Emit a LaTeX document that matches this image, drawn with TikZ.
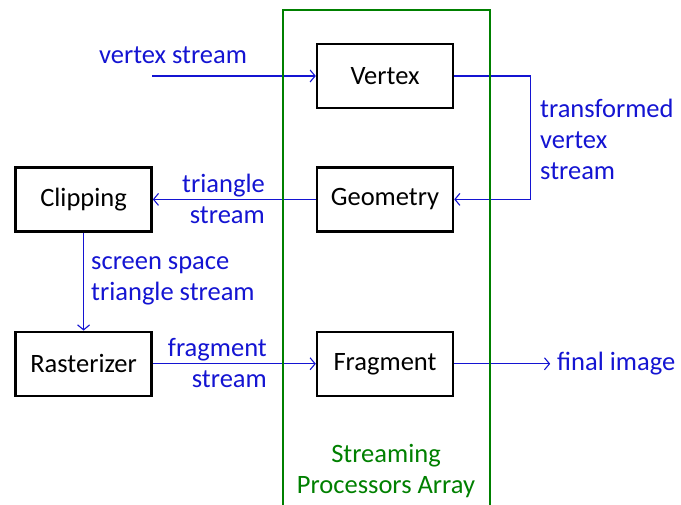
\documentclass[tikz,border=0pt]{standalone}
\usepackage{fontspec}
\setmainfont{Carlito}
\usepackage{xcolor}
\usepackage{tikz}
\usetikzlibrary{positioning, arrows.meta}

\definecolor{flowblue}{RGB}{20,20,210}
\definecolor{arraygreen}{RGB}{0,128,0}

\begin{document}
\begin{tikzpicture}[x=1pt, y=1pt, node distance=57pt and 163pt]

			% Styles
			\tikzset{
				stage/.style={
					rectangle, draw=black, line width=2.4pt,
					minimum width=136pt, minimum height=64pt,
					inner sep=0pt, align=center,
					font=\fontsize{26.5}{31}\selectfont
				},
				flowlabel/.style={
					text=flowblue, inner sep=0pt,
					font=\fontsize{26.5}{31}\selectfont
				},
				arrow/.style={draw=flowblue, line width=1.1pt,
					-{Straight Barb[length=5pt, width=12pt]}}
			}

			\useasboundingbox (0,0) rectangle (681,505);

			% Processing stages
			\node (vertex) [stage] at (385,429) {Vertex};
			\node (geometry) [stage, below=of vertex] {Geometry};
			\node (fragment) [stage, below=98pt of geometry] {Fragment};
			\node (clipping) [stage, left=of geometry] {Clipping};
			\node (raster) [stage, left=of fragment] {Rasterizer};

			% Stream labels
			\coordinate (vsin) at (152,429);
			\node (vslabel) [flowlabel] at (173,450) {vertex stream};
			\node (tvlabel) [flowlabel, anchor=west, align=left] at (540,366)
				{transformed\\vertex\\stream};
			\node (trilabel) [flowlabel, anchor=east, align=right] at (265,306)
				{triangle\\stream};
			\node (sslabel) [flowlabel, anchor=west, align=left] at (91,224)
				{screen space\\triangle stream};
			\node (fraglabel) [flowlabel, anchor=east, align=right] at (267,142)
				{fragment\\stream};
			\node (final) [flowlabel, anchor=west] at (557,141) {final image};

			% Arrows
			\draw[arrow] (vsin) -- (vertex.west);
			\draw[arrow] (vertex.east) -- ++(76,0) |- (geometry.east);
			\draw[arrow] (geometry.west) -- (clipping.east);
			\draw[arrow] (clipping.south) -- (raster.north);
			\draw[arrow] (raster.east) -- (fragment.west);
			\draw[arrow] (fragment.east) -- ++(96,0);

			% Streaming processors array
			\draw[arraygreen, line width=2.6pt] (283,-10) -- (283,495) -- (490,495) -- (490,-10);
			\node (spa) [flowlabel, text=arraygreen, align=center] at (386,34)
				{Streaming\\Processors Array};

		\end{tikzpicture}
\end{document}
